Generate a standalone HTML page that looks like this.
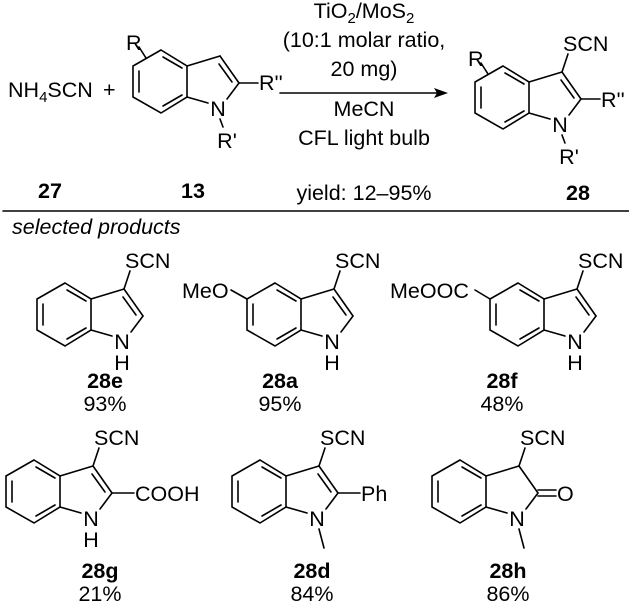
<!DOCTYPE html>
<html><head><meta charset="utf-8"><style>
html,body{margin:0;padding:0;background:#fff;}
svg{display:block;}
text{font-family:"Liberation Sans",Arial,sans-serif;font-size:21.5px;fill:#000;}
.b{font-weight:bold;}
.c{text-anchor:middle;}
line,polyline{stroke:#000;stroke-width:1.6;fill:none;stroke-linecap:round;}
</style></head><body>
<svg width="629" height="604" viewBox="0 0 629 604" xmlns="http://www.w3.org/2000/svg">
<defs>
<g id="core">
<polyline points="65,283 37,299 37,330 65,346 91,330 91,299 65,283"/>
<line x1="67" y1="290" x2="86" y2="301"/>
<line x1="43" y1="304" x2="43" y2="325"/>
<line x1="67" y1="339" x2="86" y2="328"/>
<line x1="91" y1="299" x2="124" y2="289"/>
<line x1="124" y1="289" x2="143" y2="316"/>
<line x1="143" y1="316" x2="131" y2="332"/>
<line x1="91" y1="330" x2="112" y2="336"/>
</g>
<g id="dbl"><line x1="123" y1="297" x2="136" y2="315"/></g>
<g id="scn"><line x1="124" y1="289" x2="130" y2="271"/><text x="125" y="268">SCN</text></g>
<g id="nh"><text x="122" y="349" class="c">N</text><text x="122" y="370" class="c">H</text></g>
<g id="nme"><text x="122" y="349" class="c">N</text><line x1="124" y1="352" x2="129" y2="371"/></g>
</defs>

<text x="8" y="97">NH<tspan font-size="15" dy="5">4</tspan><tspan dy="-5">SCN</tspan></text>
<text x="103" y="97">+</text>

<g transform="translate(96,-233)">
<use href="#core"/><use href="#dbl"/>
<text x="30" y="283">R</text><line x1="43" y1="280" x2="50" y2="291"/>
<line x1="143" y1="316" x2="162" y2="316"/><text x="163" y="323">R''</text>
<text x="122" y="349" class="c">N</text>
<line x1="124" y1="352" x2="127" y2="360"/>
<text x="131" y="381" class="c">R'</text>
</g>

<line x1="280" y1="93" x2="440" y2="93"/>
<polygon points="448,93 434,88 437,93 434,98" fill="#000"/>
<text x="364" y="18" class="c">TiO<tspan font-size="15" dy="5">2</tspan><tspan dy="-5">/MoS</tspan><tspan font-size="15" dy="5">2</tspan></text>
<text x="364" y="47" class="c">(10:1 molar ratio,</text>
<text x="364" y="76" class="c">20 mg)</text>
<text x="364" y="116" class="c">MeCN</text>
<text x="364" y="145" class="c">CFL light bulb</text>
<text x="364" y="200" class="c">yield: 12–95%</text>
<text x="50" y="198" class="c b">27</text>
<text x="193" y="198" class="c b">13</text>
<text x="578" y="200" class="c b">28</text>

<g transform="translate(438,-217)">
<use href="#core"/><use href="#dbl"/><use href="#scn"/>
<text x="30" y="283">R</text><line x1="43" y1="280" x2="50" y2="291"/>
<line x1="143" y1="316" x2="162" y2="316"/><text x="163" y="324">R''</text>
<text x="122" y="349" class="c">N</text>
<line x1="124" y1="352" x2="127" y2="360"/>
<text x="131" y="381" class="c">R'</text>
</g>

<line x1="3" y1="211" x2="629" y2="211"/>
<text x="12" y="234" font-style="italic" font-size="19.5">selected products</text>

<g><use href="#core"/><use href="#dbl"/><use href="#scn"/><use href="#nh"/></g>
<text x="105" y="388" class="c b">28e</text><text x="105" y="411" class="c">93%</text>

<g transform="translate(210,0)"><use href="#core"/><use href="#dbl"/><use href="#scn"/><use href="#nh"/>
<line x1="37" y1="299" x2="21" y2="290"/></g>
<text x="182" y="298">MeO</text>
<text x="280" y="388" class="c b">28a</text><text x="280" y="411" class="c">95%</text>

<g transform="translate(453,0)"><use href="#core"/><use href="#dbl"/><use href="#scn"/><use href="#nh"/>
<line x1="37" y1="299" x2="22" y2="290"/></g>
<text x="390" y="298">MeOOC</text>
<text x="502" y="388" class="c b">28f</text><text x="502" y="411" class="c">48%</text>

<g transform="translate(-31,177)"><use href="#core"/><use href="#dbl"/><use href="#scn"/><use href="#nh"/>
<line x1="143" y1="316" x2="165" y2="316"/><text x="166" y="324">COOH</text></g>
<text x="100" y="578" class="c b">28g</text><text x="100" y="601" class="c">21%</text>

<g transform="translate(195,177)"><use href="#core"/><use href="#dbl"/><use href="#scn"/><use href="#nme"/>
<line x1="143" y1="316" x2="165" y2="316"/><text x="166" y="324">Ph</text></g>
<text x="312" y="578" class="c b">28d</text><text x="312" y="601" class="c">84%</text>

<g transform="translate(395,177)"><use href="#core"/><use href="#scn"/><use href="#nme"/>
<line x1="143" y1="313" x2="161" y2="313"/><line x1="143" y1="319" x2="161" y2="319"/>
<text x="162" y="324">O</text></g>
<text x="508" y="578" class="c b">28h</text><text x="508" y="601" class="c">86%</text>
</svg>
</body></html>
